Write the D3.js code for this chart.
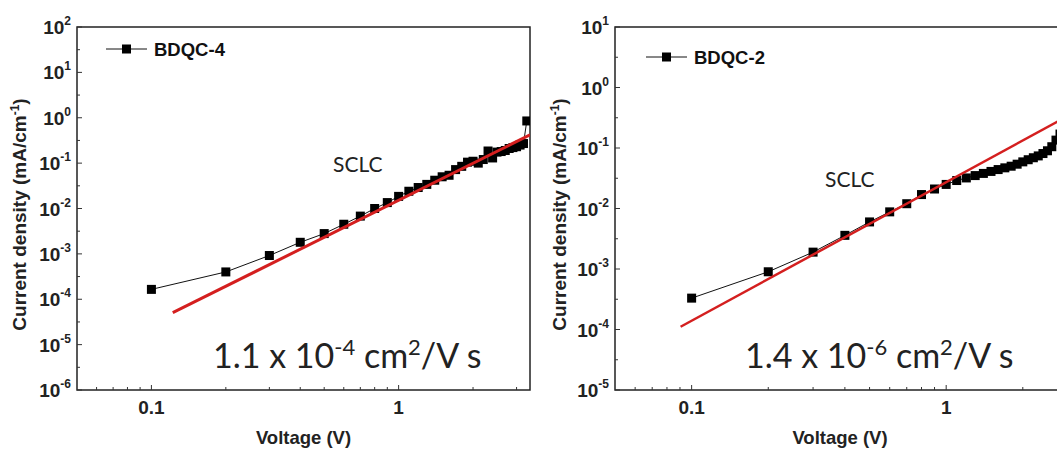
<!DOCTYPE html>
<html>
<head>
<meta charset="utf-8">
<script src="https://cdn.jsdelivr.net/npm/d3@7"></script>
<style>
  body { margin: 0; background: #fff; }
  svg { display: block; }
</style>
</head>
<body>
<div id="chart"></div>
<script>
// left panel: BDQC-4
const voltsA = [0.1, 0.2, 0.3, 0.4, 0.5, 0.6, 0.7, 0.8, 0.9, 1.0, 1.1, 1.2, 1.3, 1.4, 1.5, 1.6, 1.7,
  1.8, 1.9, 2.0, 2.1, 2.2, 2.3, 2.4, 2.5, 2.6, 2.7, 2.8, 2.9, 3.0, 3.1, 3.2, 3.3];
const currentA = [1.65e-4, 4.0e-4, 9.2e-4, 1.8e-3, 2.8e-3, 4.5e-3, 6.8e-3, 1.0e-2, 1.35e-2, 1.85e-2,
  2.4e-2, 2.9e-2, 3.4e-2, 4.2e-2, 5.0e-2, 5.4e-2, 7.2e-2, 8.5e-2, 1.05e-1, 1.1e-1, 1.0e-1, 1.2e-1,
  1.85e-1, 1.3e-1, 1.75e-1, 1.8e-1, 1.9e-1, 2.1e-1, 2.2e-1, 2.3e-1, 2.5e-1, 2.7e-1, 8.5e-1];
const fitVoltsA = [0.122, 3.4];
const fitCurrentA = [5.06e-5, 0.42];

// right panel: BDQC-2
const voltsB = [0.1, 0.2, 0.3, 0.4, 0.5, 0.6, 0.7, 0.8, 0.9, 1.0, 1.1, 1.2, 1.3, 1.4, 1.5, 1.6, 1.7,
  1.8, 1.9, 2.0, 2.1, 2.2, 2.3, 2.4, 2.5, 2.6, 2.7, 2.8];
const currentB = [3.3e-4, 9.0e-4, 1.9e-3, 3.6e-3, 6.0e-3, 8.8e-3, 1.2e-2, 1.7e-2, 2.1e-2, 2.5e-2,
  2.9e-2, 3.2e-2, 3.5e-2, 3.8e-2, 4.1e-2, 4.4e-2, 4.7e-2, 5.0e-2, 5.4e-2, 5.9e-2, 6.4e-2, 6.9e-2,
  7.4e-2, 8.1e-2, 9.0e-2, 1.05e-1, 1.35e-1, 1.7e-1];
const fitVoltsB = [0.0905, 2.8];
const fitCurrentB = [1.11e-4, 0.288];

const xTickLabels = [0.1, 1];
const yExpA = [-6, -5, -4, -3, -2, -1, 0, 1, 2];
const yExpB = [-5, -4, -3, -2, -1, 0, 1];

const W = 1057, H = 450;
const svg = d3.select('#chart').append('svg')
  .attr('width', W)
  .attr('height', H);

const panels = [
  {
    id: 'a', name: 'BDQC-4', volts: voltsA, current: currentA, fitV: fitVoltsA, fitJ: fitCurrentA,
    yExp: yExpA, xDom: [0.05, 3.4], yDom: [1e-6, 1e2],
    left: 77, right: 530, top: 27, bottom: 390,
    legend: [106, 49], sclc: [333, 172], mu: [213, 368], muBase: '1.1', muExp: '-4',
    titleX: 26, redW: 3
  },
  {
    id: 'b', name: 'BDQC-2', volts: voltsB, current: currentB, fitV: fitVoltsB, fitJ: fitCurrentB,
    yExp: yExpB, xDom: [0.05, 2.8], yDom: [1e-5, 1e1],
    left: 615, right: 1060, top: 27, bottom: 390,
    legend: [646, 57], sclc: [825, 187], mu: [745, 368], muBase: '1.4', muExp: '-6',
    titleX: 566, redW: 2.5
  }
];

const axisFont = "'Liberation Sans', Arial, sans-serif";
const noteFont = "Lato, 'Open Sans', sans-serif";

panels.forEach(p => {
  let x = d3.scaleLog().domain(p.xDom).range([p.left, p.right]);
  let y = d3.scaleLog().domain(p.yDom).range([p.bottom, p.top]);
  let g = svg.append('g');

  g.append('clipPath').attr('id', 'clip-' + p.id)
    .append('rect')
    .attr('x', p.left).attr('y', p.top)
    .attr('width', p.right - p.left).attr('height', p.bottom - p.top);

  // frame
  g.append('rect')
    .attr('x', p.left).attr('y', p.top)
    .attr('width', p.right - p.left).attr('height', p.bottom - p.top)
    .attr('fill', 'none').attr('stroke', '#222').attr('stroke-width', 1.5);

  // y ticks, pointing inward
  let yMajor = p.yExp.map(e => Math.pow(10, e));
  let yMinor = p.yExp.slice(0, -1).map(e => Math.pow(10, e + 0.5));
  g.selectAll('.ymaj').data(yMajor).enter().append('line')
    .attr('x1', p.left).attr('x2', p.left + 5)
    .attr('y1', d => y(d)).attr('y2', d => y(d))
    .attr('stroke', '#333').attr('stroke-width', 1);
  g.selectAll('.ymin').data(yMinor).enter().append('line')
    .attr('x1', p.left).attr('x2', p.left + 3)
    .attr('y1', d => y(d)).attr('y2', d => y(d))
    .attr('stroke', '#333').attr('stroke-width', 1);

  let yl = g.selectAll('.ylab').data(p.yExp).enter().append('text')
    .attr('x', p.left - 6)
    .attr('y', e => y(Math.pow(10, e)) + 7)
    .attr('text-anchor', 'end')
    .attr('font-family', axisFont).attr('font-weight', 'bold')
    .attr('font-size', 19).attr('fill', '#222');
  yl.append('tspan').text('10');
  yl.append('tspan').attr('dy', -9).attr('font-size', 12).text(e => e);

  // x ticks, pointing inward
  let xAll = [];
  for (let dec = 0.01; dec < 10; dec *= 10) {
    for (let k = 1; k < 10; k++) {
      let v = +(k * dec).toPrecision(3);
      if (v > p.xDom[0] && v < p.xDom[1]) xAll.push(v);
    }
  }
  g.selectAll('.xt').data(xAll).enter().append('line')
    .attr('x1', d => x(d)).attr('x2', d => x(d))
    .attr('y1', p.bottom).attr('y2', d => xTickLabels.includes(d) ? p.bottom - 5 : p.bottom - 3)
    .attr('stroke', '#333').attr('stroke-width', 1);

  g.selectAll('.xlab').data(xTickLabels).enter().append('text')
    .attr('x', d => x(d)).attr('y', p.bottom + 24)
    .attr('text-anchor', 'middle')
    .attr('font-family', axisFont).attr('font-weight', 'bold')
    .attr('font-size', 19).attr('fill', '#222')
    .text(d => d);

  // axis titles
  g.append('text')
    .attr('x', p.id === 'a' ? (p.left + p.right) / 2 : 840)
    .attr('y', 444)
    .attr('text-anchor', 'middle')
    .attr('font-family', axisFont).attr('font-weight', 'bold')
    .attr('font-size', 18.5).attr('fill', '#222')
    .text('Voltage (V)');

  let yt = g.append('text')
    .attr('transform', `translate(${p.titleX},${(p.top + p.bottom) / 2 + 6}) rotate(-90)`)
    .attr('text-anchor', 'middle')
    .attr('font-family', axisFont).attr('font-weight', 'bold')
    .attr('font-size', 19).attr('fill', '#222');
  yt.append('tspan').text('Current density (mA/cm');
  yt.append('tspan').attr('dy', -7).attr('font-size', 12).text('-1');
  yt.append('tspan').attr('dy', 7).text(')');

  // data
  let plot = g.append('g').attr('clip-path', `url(#clip-${p.id})`);
  let pts = p.volts.map((v, i) => [v, p.current[i]]);
  let line = d3.line().x(d => x(d[0])).y(d => y(d[1]));

  plot.append('path').datum(pts)
    .attr('d', line)
    .attr('fill', 'none').attr('stroke', '#111').attr('stroke-width', 1);

  plot.selectAll('.sq').data(pts).enter().append('rect')
    .attr('x', d => x(d[0]) - 4.5).attr('y', d => y(d[1]) - 4.5)
    .attr('width', 9).attr('height', 9)
    .attr('fill', '#000');

  // SCLC fit
  plot.append('path').datum(p.fitV.map((v, i) => [v, p.fitJ[i]]))
    .attr('d', line)
    .attr('fill', 'none').attr('stroke', '#d41f1f').attr('stroke-width', p.redW);

  // legend
  let [lx, ly] = p.legend;
  g.append('line').attr('x1', lx).attr('x2', lx + 41).attr('y1', ly).attr('y2', ly)
    .attr('stroke', '#111').attr('stroke-width', 1);
  g.append('rect').attr('x', lx + 16).attr('y', ly - 4.5).attr('width', 9).attr('height', 9)
    .attr('fill', '#000');
  g.append('text').attr('x', lx + 48).attr('y', ly + 7)
    .attr('font-family', axisFont).attr('font-weight', 'bold')
    .attr('font-size', 18.5).attr('fill', '#111')
    .text(p.name);

  // annotations
  g.append('text').attr('x', p.sclc[0]).attr('y', p.sclc[1])
    .attr('font-family', noteFont).attr('font-size', 21).attr('fill', '#222')
    .text('SCLC');

  let mu = g.append('text').attr('x', p.mu[0]).attr('y', p.mu[1])
    .attr('font-family', noteFont).attr('font-size', 34).attr('fill', '#222');
  mu.append('tspan').text(p.muBase + ' x 10');
  mu.append('tspan').attr('dy', -13).attr('font-size', 22).text(p.muExp);
  mu.append('tspan').attr('dy', 13).text(' cm');
  mu.append('tspan').attr('dy', -13).attr('font-size', 22).text('2');
  mu.append('tspan').attr('dy', 13).text('/V s');
});
</script>
</body>
</html>
